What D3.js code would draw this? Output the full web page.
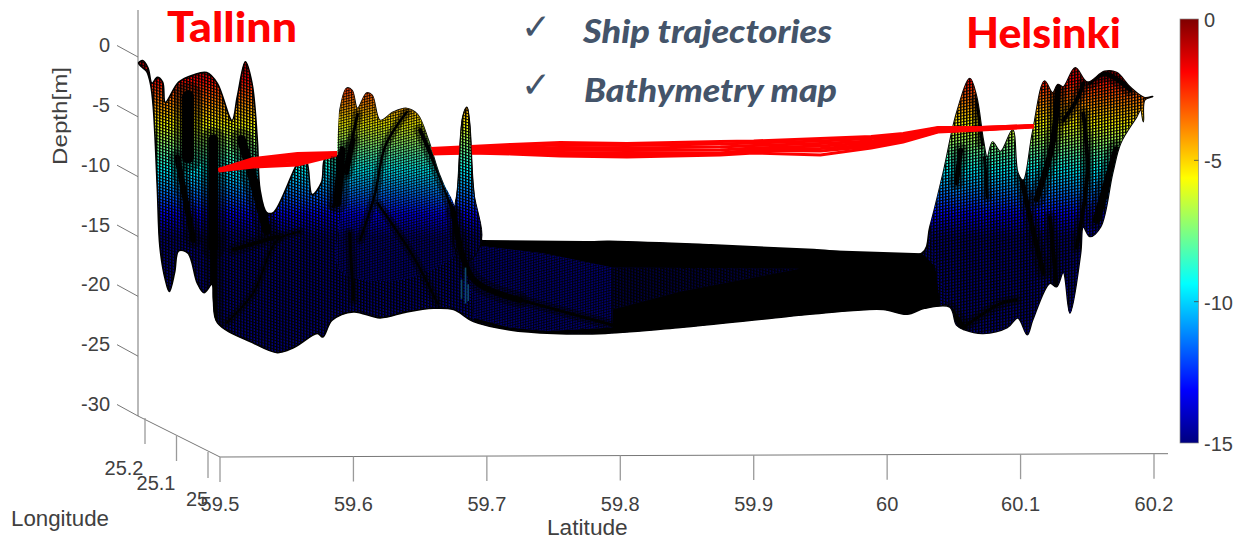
<!DOCTYPE html>
<html><head><meta charset="utf-8">
<script src="https://cdn.jsdelivr.net/npm/d3@7"></script>
<style>html,body{margin:0;padding:0;background:#fff;overflow:hidden}svg{display:block}text{font-family:"Liberation Sans",Arial,sans-serif}</style>
</head><body><svg id="c" width="1235" height="541"></svg>
<script>
// ---------- tick labels ----------
const latTicks=[59.5,59.6,59.7,59.8,59.9,60,60.1,60.2];
const depthTicks=[0,-5,-10,-15,-20,-25,-30];
const lonTicks=[25.2,25.1,25];
const barTicks=[0,-5,-10,-15];
const jetColors=["#7f0000","#ff0000","#ffff00","#00ffff","#0000ff","#00007f"];
const jetDepths=[0,-1.875,-5.625,-9.375,-13.125,-15];

// ---------- bathymetry outline, [latitude, depth] as seen in the view plane ----------
const leftTop=[[59.439,-0.5],[59.442,-0.3],[59.446,-0.9],[59.449,-2.2],[59.453,-1.7],[59.457,-2.1],[59.459,-3.8],[59.469,-2.1],[59.48,-1.5],[59.49,-1.3],[59.498,-2.2],[59.509,-5.3],[59.513,-3.3],[59.519,-0.4],[59.524,-2.2],[59.528,-7],[59.53,-11.1],[59.535,-13],[59.54,-13],[59.561,-8.5],[59.565,-8.8],[59.569,-11.5],[59.576,-10.5],[59.579,-8.4],[59.588,-8.2],[59.59,-4.4],[59.595,-2.6],[59.599,-2.8],[59.603,-4.3],[59.61,-3],[59.614,-3.2],[59.62,-5.3],[59.63,-4.6],[59.64,-4.3],[59.648,-4.8],[59.656,-6.9],[59.665,-10],[59.676,-12.5],[59.678,-11.1],[59.682,-5],[59.685,-4.2],[59.687,-5.5],[59.69,-11.1],[59.696,-15.3]];
const sheetTop=[[59.792,-15.4],[59.868,-15.7],[59.945,-16.1],[60.026,-16.4]];
const rightTop=[[60.032,-14.2],[60.042,-9.7],[60.052,-4.7],[60.062,-1.8],[60.067,-3.3],[60.072,-6.9],[60.075,-8.4],[60.079,-7.1],[60.085,-7.9],[60.094,-6.1],[60.098,-9.7],[60.102,-10.3],[60.109,-6.3],[60.118,-2],[60.124,-3],[60.128,-2.3],[60.132,-2.5],[60.141,-0.9],[60.15,-2.1],[60.163,-1.2],[60.172,-1.3],[60.182,-2.5],[60.193,-3.4],[60.199,-3.3]];
const bottomEdge=[[60.193,-3.6],[60.192,-5.4],[60.19,-4.4],[60.187,-5],[60.175,-7.2],[60.169,-9.7],[60.16,-14.2],[60.152,-15],[60.147,-14.2],[60.145,-16.4],[60.137,-21.4],[60.132,-18],[60.127,-19.2],[60.122,-18.9],[60.109,-22],[60.105,-23.2],[60.098,-21.8],[60.09,-22.6],[60.072,-23.1],[60.058,-22.8],[60.052,-22.4],[60.047,-20.9],[60.028,-21],[60.015,-21.5],[59.997,-21.1],[59.972,-21.2],[59.924,-21.7],[59.845,-22.6],[59.789,-23.1],[59.75,-23.1],[59.717,-22.8],[59.69,-22.1],[59.675,-21.1],[59.66,-21],[59.64,-21.3],[59.62,-21.8],[59.6,-21.3],[59.584,-22],[59.577,-23.4],[59.573,-23.1],[59.555,-24.3],[59.543,-24.7],[59.525,-23.9],[59.498,-22.2],[59.495,-20.3],[59.494,-19],[59.488,-19.7],[59.483,-18.9],[59.476,-16.4],[59.469,-16.2],[59.466,-18],[59.462,-19.6],[59.459,-18.6],[59.455,-15.9],[59.453,-10.9],[59.45,-4.2],[59.448,-2.3],[59.445,-1.2],[59.441,-0.8]];

// nearer hills that hide the ship tracks
const frontHill=[[59.59,-13],[59.588,-8],[59.59,-4.4],[59.595,-2.6],[59.599,-2.8],[59.603,-4.3],[59.61,-3],[59.614,-3.2],[59.62,-5.3],[59.63,-4.6],[59.64,-4.3],[59.648,-4.8],[59.656,-6.9],[59.665,-10],[59.676,-12.5],[59.68,-16],[59.635,-18.6],[59.59,-17.8]];
const spike=[[59.676,-12.5],[59.678,-11.1],[59.682,-5],[59.685,-4.2],[59.687,-5.5],[59.69,-11.1],[59.696,-15.3],[59.687,-17],[59.676,-16]];

// the flat deep channel between the two coasts
const channelBlack=[[59.696,-15.3],[59.792,-15.4],[59.868,-15.7],[59.945,-16.1],[60.026,-16.4],[60.036,-17.5],[60.04,-20.8],[60.028,-21],[60.015,-21.5],[59.997,-21.1],[59.972,-21.2],[59.924,-21.7],[59.845,-22.6],[59.789,-23.1],[59.75,-23.1],[59.717,-22.8],[59.69,-22.1]];
const channelNavy=[[59.696,-15.8],[59.742,-16.4],[59.794,-17.6],[59.794,-22.6],[59.745,-22.9],[59.717,-22.6],[59.69,-21.8],[59.687,-17]];
const channelTip=[[59.794,-17.6],[59.934,-17.7],[59.845,-19.6],[59.794,-21.1]];

// crests and folds that show as heavy black lines
const ridges=[
 {w:12,p:[[59.476,-3.3],[59.476,-8.4]]},
 {w:10,p:[[59.495,-6.9],[59.495,-15.9]]},
 {w:9,p:[[59.516,-6.9],[59.525,-10.3],[59.535,-14.5]]},
 {w:6,p:[[59.468,-8.4],[59.48,-15.3]]},
 {w:6,p:[[59.495,-15.3],[59.496,-22.2]]},
 {w:4,p:[[59.51,-16.1],[59.543,-15]]},
 {w:2,p:[[59.505,-22.2],[59.525,-19.7],[59.543,-15.3],[59.56,-14.6]]},
 {w:8,p:[[59.591,-7.8],[59.588,-12.2]]},
 {w:4,p:[[59.6,-6.9],[59.595,-9.7]]},
 {w:3,p:[[59.603,-4.8],[59.597,-7.8],[59.585,-12.5]]},
 {w:3,p:[[59.597,-14.7],[59.6,-20.3]]},
 {w:2.5,p:[[59.64,-4.6],[59.624,-7.4],[59.616,-11.5],[59.605,-15.3]]},
 {w:2.5,p:[[59.618,-12.2],[59.645,-16.7],[59.663,-20.6]]},
 {w:4,p:[[59.65,-6.1],[59.668,-10.8],[59.675,-13]]},
 {w:6,p:[[59.675,-13],[59.69,-18.6],[59.725,-20.3]]},
 {w:3,p:[[59.725,-20.3],[59.794,-22.4]]},
 {w:5,p:[[60.055,-7.8],[60.052,-10.5]]},
 {w:5,p:[[60.068,-3.6],[60.072,-7.2]]},
 {w:3,p:[[60.073,-8.4],[60.075,-11.7]]},
 {w:5,p:[[60.1,-9.7],[60.107,-13.4],[60.117,-18]]},
 {w:6,p:[[60.112,-11.9],[60.124,-7.2],[60.128,-2.5]]},
 {w:4,p:[[60.132,-5.3],[60.142,-3.6],[60.147,-2.2]]},
 {w:4,p:[[60.147,-4.7],[60.15,-9.7],[60.142,-15.9]]},
 {w:8,p:[[60.172,-7.8],[60.165,-10.5],[60.157,-13.6]]},
 {w:4,p:[[60.122,-13.4],[60.127,-19.2]]},
 {w:6,p:[[60.047,-21.1],[60.057,-22.6]]},
 {w:5,p:[[60.152,-2.1],[60.163,-1.4],[60.182,-2.7]]},
 {w:3,p:[[60.057,-22.6],[60.085,-20.6],[60.097,-20.3]]}
];
const glitchLat=[59.681,59.684,59.686];
const glitchTop=[-18.6,-17.6,-19];
const glitchBottom=[-20.2,-20.6,-20.4];

// ---------- ship trajectories (depth at shared latitudes) ----------
const trackLat=[59.499,59.525,59.558,59.588,59.658,59.688,59.718,59.755,59.805,59.875,59.9,59.95,59.988,60.012,60.038,60.07,60.11];
const track1=[-9.4,-8.48,-8.06,-7.98,-7.64,-7.48,-7.31,-7.14,-7.23,-7.06,-7.02,-6.81,-6.64,-6.39,-5.89,-5.89,-5.72];
const track2=[-9.4,-8.6,-8.19,-8.02,-7.77,-7.6,-7.48,-7.35,-7.39,-7.27,-7.18,-7.02,-6.81,-6.52,-5.93,-5.89,-5.72];
const track3=[-9.44,-8.69,-8.35,-8.06,-7.85,-7.77,-7.64,-7.56,-7.6,-7.52,-7.39,-7.23,-7.02,-6.64,-6.02,-5.97,-5.76];
const track4=[-9.44,-8.81,-8.48,-8.1,-7.94,-7.85,-7.81,-7.77,-7.81,-7.77,-7.6,-7.44,-7.18,-6.77,-6.1,-5.97,-5.76];
const track5=[-9.48,-8.94,-8.65,-8.1,-8.02,-7.94,-7.94,-7.98,-8.02,-8.02,-7.77,-7.64,-7.35,-6.93,-6.18,-6.06,-5.81];
const track6=[-9.48,-9.11,-8.86,-8.15,-8.06,-7.98,-8.02,-8.19,-8.23,-8.06,-7.81,-7.85,-7.48,-7.02,-6.22,-6.06,-5.81];
const track7=[-9.52,-9.19,-9.02,-8.19,-8.1,-8.02,-8.1,-8.27,-8.35,-8.19,-8.02,-8.19,-7.6,-7.1,-6.27,-6.1,-5.85];
const tracks=[track1,track2,track3,track4,track5,track6,track7];

// ---------- scales ----------
const svg=d3.select("#c");
const x=d3.scaleLinear().domain([59.5,60.2]).range([220,1154]);
const y=d3.scaleLinear().domain([0,-30]).range([57,416]);
const barY=d3.scaleLinear().domain([0,-15]).range([19,443]);
const axisY=d3.scaleLinear().domain([59.5,60.2]).range([457,453.7]);
const lonX=d3.scaleLinear().domain([25,25.2]).range([208,145]);
const lonY=d3.scaleLinear().domain([25,25.2]).range([452,418]);
const ink="#404040", grey="#9a9a9a";

const defs=svg.append("defs");
function jetGrad(id,scale){
  const g=defs.append("linearGradient").attr("id",id).attr("gradientUnits","userSpaceOnUse")
    .attr("x1",0).attr("x2",0).attr("y1",scale(0)).attr("y2",scale(-15));
  jetDepths.forEach((d,i)=>g.append("stop").attr("offset",(-d/15)).attr("stop-color",jetColors[i]));
}
jetGrad("surf",y);
jetGrad("bar",barY);
function mesh(id,w,h,vw,hw,o,skew){
  const p=defs.append("pattern").attr("id",id).attr("patternUnits","userSpaceOnUse").attr("width",w).attr("height",h)
    .attr("patternTransform",`skewY(${skew})`);
  p.append("rect").attr("width",vw).attr("height",h).attr("fill","#000").attr("opacity",o);
  p.append("rect").attr("width",w).attr("height",hw).attr("fill","#000").attr("opacity",o);
}
mesh("meshA",3,3,1.5,1.1,.95,16);
mesh("meshB",2.6,2.6,1.1,1,.85,-14);
mesh("meshC",3,3,1.5,1.1,.95,-10);

const line=d3.line().x(d=>x(d[0])).y(d=>y(d[1]));
const smooth=d3.line().x(d=>x(d[0])).y(d=>y(d[1])).curve(d3.curveCatmullRom.alpha(.5));
const closed=d3.line().x(d=>x(d[0])).y(d=>y(d[1])).curve(d3.curveCatmullRomClosed.alpha(.5));

function meshed(g,pts,meshId,edge){
  const d=closed(pts);
  g.append("path").attr("d",d).attr("fill","url(#surf)");
  g.append("path").attr("d",d).attr("fill",`url(#${meshId})`)
    .attr("stroke",edge?"#000":"none").attr("stroke-width",edge||0);
}

// ---------- depth and longitude axes ----------
const ax=svg.append("g");
ax.append("line").attr("x1",138).attr("x2",138).attr("y1",10).attr("y2",y(-30)).attr("stroke","#a8a8a8").attr("stroke-width",1.6);
ax.selectAll(".dt").data(depthTicks).join("line").attr("x1",117).attr("x2",138)
  .attr("y1",d=>y(d)-11.5).attr("y2",d=>y(d)).attr("stroke","#777").attr("stroke-width",1);
ax.selectAll(".dl").data(depthTicks).join("text").attr("x",110).attr("y",d=>y(d)-5)
  .attr("text-anchor","end").attr("font-size",20).attr("fill",ink).text(d=>d);
ax.append("line").attr("x1",138).attr("y1",y(-30)).attr("x2",220).attr("y2",457).attr("stroke","#777").attr("stroke-width",1);
ax.selectAll(".lt").data(lonTicks).join("line").attr("x1",d=>lonX(d)).attr("x2",d=>lonX(d))
  .attr("y1",d=>lonY(d)).attr("y2",d=>lonY(d)+26).attr("stroke",grey).attr("stroke-width",1.3);
const lonLabelX={25.2:124,25.1:156,25:197}, lonLabelY={25.2:475,25.1:490,25:506};
ax.selectAll(".ll").data(lonTicks).join("text").attr("x",d=>lonLabelX[d]).attr("y",d=>lonLabelY[d])
  .attr("text-anchor","middle").attr("font-size",20).attr("fill",ink).text(d=>d);

const latG=svg.append("g");
latG.append("path").attr("d",`M220,457L${x(60.2)},${axisY(60.2)}L1168,453.7`).attr("fill","none").attr("stroke","#777").attr("stroke-width",1);
latG.selectAll(".t").data(latTicks).join("line").attr("x1",d=>x(d)).attr("x2",d=>x(d))
  .attr("y1",d=>axisY(d)).attr("y2",d=>axisY(d)+25).attr("stroke",grey).attr("stroke-width",1.3);
latG.selectAll(".l").data(latTicks).join("text").attr("x",d=>x(d)).attr("y",511)
  .attr("text-anchor","middle").attr("font-size",20).attr("fill",ink).text(d=>d);

// ---------- surface ----------
const surface=svg.append("g");
const silhouette=[...leftTop,...sheetTop,...rightTop,...bottomEdge];
defs.append("clipPath").attr("id","inside").append("path").attr("d",closed(silhouette));
meshed(surface,silhouette,"meshA",1.6);
// right-hand coast has its mesh running the other way
const rightPart=surface.append("g").attr("clip-path","url(#inside)");
rightPart.append("path").attr("d",closed([...rightTop,...bottomEdge.slice(0,22)])).attr("fill","url(#surf)");
rightPart.append("path").attr("d",closed([...rightTop,...bottomEdge.slice(0,22)])).attr("fill","url(#meshC)");
surface.append("path").attr("d",line(channelBlack)+"Z").attr("fill","#000");
surface.append("path").attr("d",line(channelNavy)+"Z").attr("fill","#00007f");
surface.append("path").attr("d",line(channelNavy)+"Z").attr("fill","url(#meshB)");
surface.append("path").attr("d",line(channelTip)+"Z").attr("fill","#00005a").attr("opacity",.75);
surface.append("path").attr("d",line(channelTip)+"Z").attr("fill","url(#meshA)");

function drawRidges(g,list){
  g.attr("clip-path","url(#inside)");
  g.selectAll(".halo").data(list).join("path").attr("class","halo").attr("d",d=>smooth(d.p)).attr("fill","none")
   .attr("stroke","#000").attr("stroke-opacity",.4).attr("stroke-width",d=>d.w*2+4).attr("stroke-linecap","round");
  g.selectAll(".core").data(list).join("path").attr("class","core").attr("d",d=>smooth(d.p)).attr("fill","none")
   .attr("stroke","#000").attr("stroke-width",d=>d.w).attr("stroke-linecap","round");
}
const isFront=r=>r.p[0][0]>=59.58&&r.p[0][0]<=60;
drawRidges(svg.append("g"),ridges.filter(r=>!isFront(r)));

// ship tracks run between the back and the front hills
svg.append("g").selectAll("path").data(tracks).join("path")
  .attr("d",t=>line(t.map((v,i)=>[trackLat[i],v]))).attr("fill","none")
  .attr("stroke","#ff0000").attr("stroke-width",3);

const front=svg.append("g");
meshed(front,frontHill,"meshB",0);
meshed(front,spike,"meshA",1);
drawRidges(svg.append("g"),ridges.filter(isFront));
svg.append("g").selectAll("line").data(glitchLat).join("line")
  .attr("x1",d=>x(d)).attr("x2",d=>x(d)).attr("y1",(d,i)=>y(glitchTop[i])).attr("y2",(d,i)=>y(glitchBottom[i]))
  .attr("stroke","#0d4a6a").attr("stroke-width",1.6);

// ---------- colour bar ----------
const bar=svg.append("g");
bar.append("rect").attr("x",1180).attr("y",barY(0)).attr("width",18.5).attr("height",barY(-15)-barY(0))
  .attr("fill","url(#bar)").attr("stroke","#8a8a8a").attr("stroke-width",.7);
bar.selectAll(".k").data(barTicks.slice(1,3)).join("line").attr("x1",1194).attr("x2",1198.5)
  .attr("y1",d=>barY(d)).attr("y2",d=>barY(d)).attr("stroke","#444").attr("stroke-width",.8);
bar.selectAll(".b").data(barTicks).join("text").attr("x",1204).attr("y",d=>barY(d)+8)
  .attr("font-size",20).attr("fill",ink).text(d=>d);

// ---------- titles and notes ----------
svg.append("text").attr("transform","translate(67,165) rotate(-90)").attr("font-size",21).attr("fill",ink)
  .attr("textLength",98).attr("lengthAdjust","spacingAndGlyphs").text("Depth[m]");
svg.append("text").attr("x",11).attr("y",526).attr("font-size",22.3).attr("fill",ink).text("Longitude");
svg.append("text").attr("x",547).attr("y",535).attr("font-size",22.7).attr("fill",ink).text("Latitude");
const bold='Lato,"Liberation Sans",sans-serif';
[["Tallinn",167,42,130],["Helsinki",966,48,155]].forEach(([t,tx,ty,w])=>{
  svg.append("text").attr("x",tx).attr("y",ty).attr("font-size",42).attr("font-weight",900).attr("fill","#ff0000")
    .style("font-family",bold).attr("textLength",w).attr("lengthAdjust","spacingAndGlyphs").text(t);
});
const note="#44546a";
[["Ship trajectories",583,43,249,39],["Bathymetry map",584,102,253,97]].forEach(([t,tx,ty,w,cy])=>{
  svg.append("text").attr("x",tx).attr("y",ty).attr("font-size",32).attr("font-style","italic").attr("font-weight",900)
    .attr("fill",note).style("font-family",bold).attr("textLength",w).attr("lengthAdjust","spacingAndGlyphs").text(t);
  svg.append("text").attr("x",521).attr("y",cy).attr("font-size",36).attr("fill",note)
    .style("font-family",'"DejaVu Sans",sans-serif').text("\u2713");
});
</script></body></html>
